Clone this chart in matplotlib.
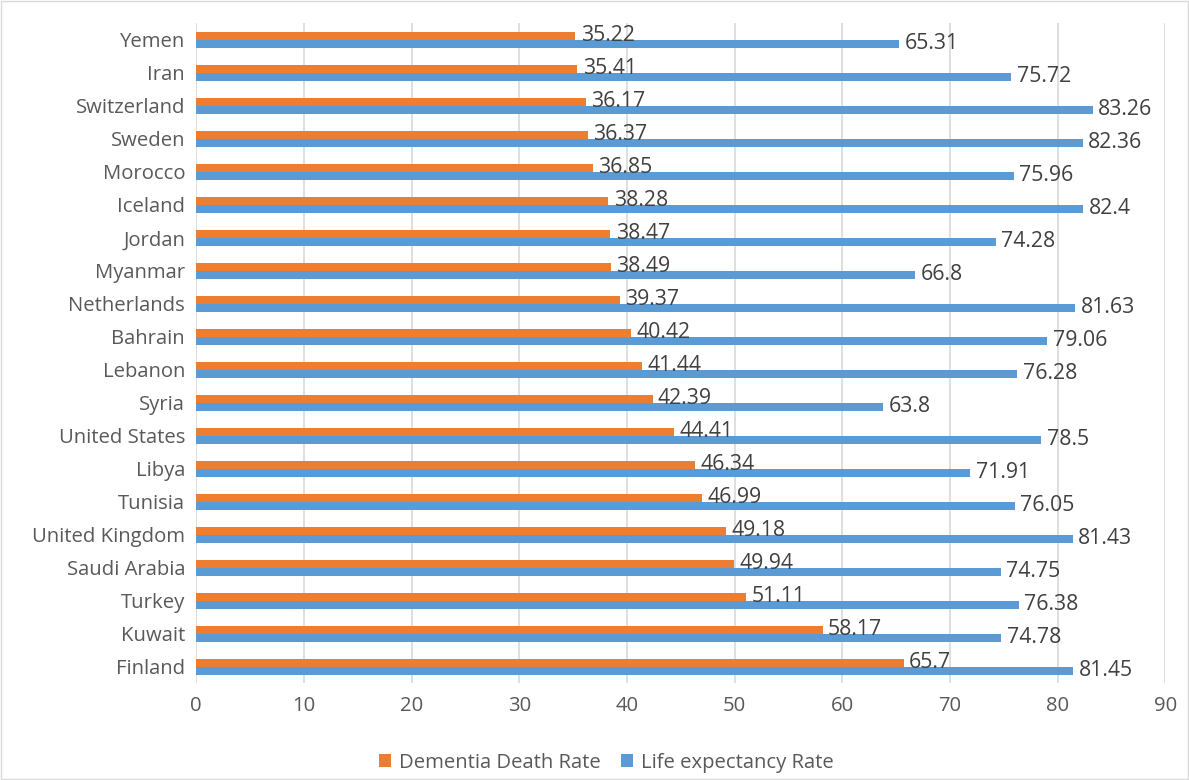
import matplotlib.pyplot as plt
import numpy as np

countries = ["Yemen", "Iran", "Switzerland", "Sweden", "Morocco", "Iceland", "Jordan",
             "Myanmar", "Netherlands", "Bahrain", "Lebanon", "Syria", "United States",
             "Libya", "Tunisia", "United Kingdom", "Saudi Arabia", "Turkey", "Kuwait", "Finland"]
dementia = [35.22, 35.41, 36.17, 36.37, 36.85, 38.28, 38.47, 38.49, 39.37, 40.42,
            41.44, 42.39, 44.41, 46.34, 46.99, 49.18, 49.94, 51.11, 58.17, 65.7]
life_exp = [65.31, 75.72, 83.26, 82.36, 75.96, 82.4, 74.28, 66.8, 81.63, 79.06,
            76.28, 63.8, 78.5, 71.91, 76.05, 81.43, 74.75, 76.38, 74.78, 81.45]
x_ticks = list(range(0, 100, 10))

ORANGE = "#ED7D31"
BLUE = "#5B9BD5"
TEXT = "#595959"

plt.rcParams["font.family"] = ["Open Sans", "DejaVu Sans"]

fig = plt.figure(figsize=(11.89, 7.80), dpi=100)
ax = fig.add_axes([0.165, 0.124, 0.815, 0.846])

n = len(countries)
y = np.arange(n)[::-1]
h = 0.245
b1 = ax.barh(y + h / 2, dementia, height=h, color=ORANGE, label="Dementia Death Rate")
b2 = ax.barh(y - h / 2, life_exp, height=h, color=BLUE, label="Life expectancy Rate")
for bars, vals in ((b1, dementia), (b2, life_exp)):
    for bar, v in zip(bars, vals):
        ax.text(bar.get_width() + 0.5, bar.get_y() + bar.get_height() / 2, f"{v:g}",
                va="center", ha="left", fontsize=15.3, color="#404040")

ax.set_xlim(0, 90)
ax.set_ylim(-0.5, n - 0.5)
ax.set_xticks(x_ticks)
ax.set_yticks(y)
ax.set_yticklabels(countries)
ax.tick_params(axis="both", length=0, labelsize=14.6, labelcolor=TEXT)
ax.tick_params(axis="x", pad=9)
ax.tick_params(axis="y", pad=8)
ax.grid(axis="x", color="#D9D9D9", linewidth=1.2)
ax.set_axisbelow(True)
for s in ax.spines.values():
    s.set_visible(False)

fig.legend(handles=[b1, b2], loc="center", bbox_to_anchor=(0.51, 0.022), ncol=2,
           frameon=False, fontsize=14.6, labelcolor=TEXT, handlelength=0.6, handleheight=0.6,
           columnspacing=1.0, handletextpad=0.4)

fig.patches.append(plt.Rectangle((0.001, 0.001), 0.998, 0.998, transform=fig.transFigure,
                                 fill=False, edgecolor="#D9D9D9", linewidth=1))
fig.savefig("out.png", dpi=100)
